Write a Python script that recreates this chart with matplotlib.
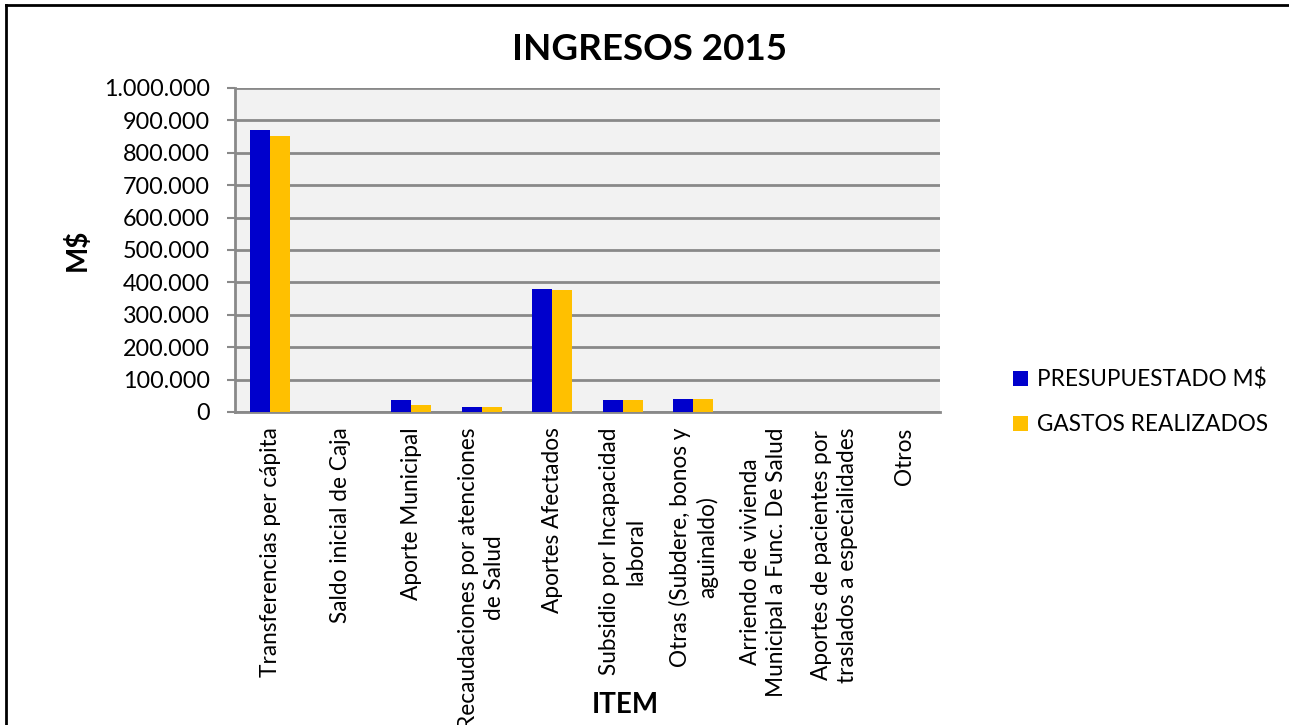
import matplotlib.pyplot as plt
import numpy as np
from matplotlib.lines import Line2D
from matplotlib.ticker import FuncFormatter, MultipleLocator

# categories and values (M$)
items = [
    "Transferencias per cápita",
    "Saldo inicial de Caja",
    "Aporte Municipal",
    "Recaudaciones por atenciones\nde Salud",
    "Aportes Afectados",
    "Subsidio por Incapacidad\nlaboral",
    "Otras (Subdere, bonos y\naguinaldo)",
    "Arriendo de vivienda\nMunicipal a Func. De Salud",
    "Aportes de pacientes por\ntraslados a especialidades",
    "Otros",
]
presupuestado = [871000, 0, 37000, 15400, 378500, 36000, 41000, 0, 0, 0]
gastos = [853000, 0, 21500, 14800, 377400, 35900, 41000, 0, 0, 0]
series_names = ["PRESUPUESTADO M$", "GASTOS REALIZADOS"]

font = "Lato"
blue = "#0000CC"
gold = "#FFC000"
grid_col = "#898989"
W, H = 1289, 725

fig = plt.figure(figsize=(W/100, H/100), dpi=100)
ax = fig.add_axes([235/W, 1 - 412/H, 705/W, 324/H])
ax.set_facecolor("#F2F2F2")

x = np.arange(len(items))
w = 0.285
b1 = ax.bar(x - w/2, presupuestado, w, color=blue, label=series_names[0], zorder=3)
b2 = ax.bar(x + w/2, gastos, w, color=gold, label=series_names[1], zorder=3)

ax.set_xlim(-0.5, len(items) - 0.5)
ax.set_ylim(0, 1000000)
ax.yaxis.set_major_locator(MultipleLocator(100000))
ax.yaxis.set_major_formatter(FuncFormatter(lambda v, p: f"{int(v):,}".replace(",", ".")))
ax.grid(axis="y", color=grid_col, linewidth=2)
ax.set_axisbelow(True)

for s in ["top", "right"]:
    ax.spines[s].set_visible(False)
ax.spines["left"].set_color(grid_col)
ax.spines["left"].set_linewidth(2)
ax.spines["bottom"].set_color(grid_col)
ax.spines["bottom"].set_linewidth(2)

ax.tick_params(axis="y", length=6, width=1.5, color=grid_col, pad=12, labelsize=16.8)
ax.tick_params(axis="x", length=0, pad=11, labelsize=16.3)
for lab in ax.get_yticklabels():
    lab.set_fontfamily(font)

ax.set_xticks(x)
ax.set_xticklabels(items, rotation=90, ha="center", va="top",
                   multialignment="center", fontfamily=font, linespacing=1.3)

# titles placed in figure pixels like the original chart area
fig.text(650/W, 1 - 50/H, "INGRESOS 2015", fontsize=26.5, fontweight="bold",
         fontfamily=font, ha="center", va="center")
fig.text(77/W, 1 - 250/H, "M$", fontsize=20, fontweight="bold", fontfamily=font,
         rotation=90, ha="center", va="center")
fig.text(625/W, 1 - 705/H, "ITEM", fontsize=20, fontweight="bold", fontfamily=font,
         ha="center", va="center")

fig.legend(handles=[b1, b2], loc="center left", bbox_to_anchor=(993/W, 1 - 402/H),
           frameon=False, prop={"family": font, "size": 16.3},
           handlelength=0.65, handleheight=0.65, handletextpad=0.4, labelspacing=1.05)

# outer frame (only top and left edges show in the crop)
fig.add_artist(Line2D([6/W, 1], [1 - 5/H, 1 - 5/H], color="black", linewidth=2))
fig.add_artist(Line2D([6/W, 6/W], [0, 1 - 5/H], color="black", linewidth=2))

plt.savefig("out.png", dpi=100)
